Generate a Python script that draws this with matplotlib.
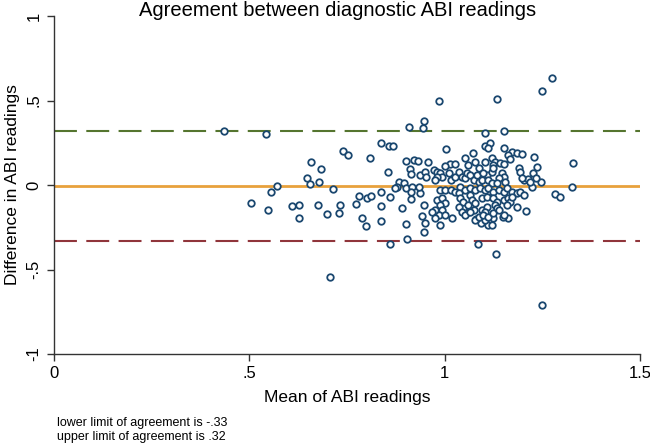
import matplotlib
matplotlib.use("Agg")
import matplotlib.pyplot as plt

# Mean of ABI readings (x) and difference in ABI readings (y)
mean_abi = [
0.985,0.948,0.944,0.908,0.434,0.543,0.837,0.857,0.867,1.004,0.740,0.752,0.809,0.658,0.901,0.921,0.932,0.958,0.684,0.856,
0.911,0.914,0.648,0.678,0.656,0.714,0.571,0.555,0.503,0.547,0.608,0.628,0.628,0.677,0.699,0.730,0.731,0.774,0.781,0.802,
0.811,0.836,0.788,0.798,0.838,0.836,0.861,0.890,0.901,0.904,0.860,0.707,0.913,0.938,0.947,0.942,0.949,0.947,0.987,1.133,
1.250,1.275,1.104,1.153,1.329,1.325,1.282,1.295,1.104,1.115,1.112,1.151,1.072,1.053,1.172,1.184,1.197,1.161,1.168,1.229,
1.237,1.227,1.247,1.191,1.193,1.204,1.214,1.223,1.085,1.131,1.207,1.185,1.163,1.149,1.125,1.110,1.094,1.080,1.019,1.059,
1.074,1.250,1.013,1.027,1.061,1.078,1.087,1.102,0.938,0.949,0.951,0.972,0.980,0.989,0.993,0.980,0.976,1.010,1.015,1.027,
1.036,1.044,1.053,1.057,1.066,1.074,1.082,1.087,1.099,1.108,0.883,0.895,0.878,0.934,0.874,0.900,0.917,0.913,0.989,1.002,
1.015,1.027,1.040,1.053,1.066,1.078,1.091,1.104,0.980,0.993,1.002,0.989,0.976,0.993,0.985,1.002,1.036,1.040,1.048,1.036,
1.044,1.053,1.066,1.070,1.078,1.061,1.066,1.078,1.087,1.095,1.104,1.108,0.968,0.976,1.002,1.121,1.129,1.125,1.142,1.151,
1.121,1.125,1.099,1.146,1.151,1.138,1.155,1.235,1.197,1.095,1.112,1.121,1.133,1.112,1.125,1.138,1.151,1.159,1.172,1.184,
1.193,1.202,1.095,1.108,1.125,1.133,1.151,1.163,1.168,1.159,1.129,1.133,1.172,1.104,1.099,1.112,1.125,1.138,1.151,1.121,
1.219,
]
diff_abi = [
0.499,0.379,0.337,0.343,0.320,0.300,0.250,0.231,0.231,0.213,0.203,0.176,0.160,0.138,0.144,0.150,0.142,0.138,0.095,0.079,
0.093,0.063,0.040,0.018,0.004,-0.024,-0.004,-0.043,-0.105,-0.148,-0.124,-0.118,-0.195,-0.120,-0.170,-0.167,-0.120,-0.111,-0.065,-0.079,
-0.065,-0.041,-0.193,-0.243,-0.215,-0.124,-0.073,-0.134,-0.233,-0.318,-0.347,-0.543,-0.085,-0.046,-0.118,-0.183,-0.227,-0.276,-0.237,0.507,
0.554,0.635,0.306,0.321,0.132,-0.014,-0.053,-0.073,0.231,0.250,0.217,0.217,0.188,0.158,0.197,0.188,0.183,0.178,0.152,0.164,
0.108,0.069,0.020,0.102,0.079,0.030,0.034,-0.010,-0.351,-0.410,-0.154,-0.128,-0.193,-0.188,-0.193,-0.237,-0.227,-0.201,-0.197,-0.158,
-0.148,-0.710,0.124,0.122,0.118,0.138,0.099,0.138,0.059,0.079,0.049,0.089,0.079,0.069,0.049,0.046,0.030,0.069,0.030,0.049,
0.079,0.049,0.040,0.069,0.059,0.030,0.059,0.020,0.040,0.059,0.020,0.010,-0.010,-0.010,-0.020,-0.020,-0.010,-0.040,-0.030,-0.030,
-0.030,-0.040,-0.010,-0.030,-0.020,-0.030,-0.020,-0.030,-0.089,-0.079,-0.108,-0.118,-0.148,-0.148,-0.178,-0.178,-0.049,-0.079,-0.099,-0.128,
-0.158,-0.178,-0.059,-0.089,-0.108,-0.118,-0.158,-0.207,-0.188,-0.148,-0.207,-0.128,-0.158,-0.197,0.112,0.158,0.138,0.118,0.128,0.124,
0.079,0.099,0.069,0.073,0.049,0.040,0.020,0.040,0.040,0.030,0.030,0.010,0.010,-0.020,-0.040,-0.030,-0.040,-0.020,-0.040,-0.049,
-0.040,-0.059,-0.079,-0.069,-0.079,-0.099,-0.089,-0.079,-0.099,-0.118,-0.118,-0.138,-0.069,-0.158,-0.178,-0.188,-0.167,-0.148,-0.178,-0.237,
0.020,
]

mean_diff = -0.005
lower_loa = -0.33
upper_loa = 0.32

title = "Agreement between diagnostic ABI readings"
xlabel = "Mean of ABI readings"
ylabel = "Difference in ABI readings"
xticks = [0, 0.5, 1, 1.5]
xticklabels = ["0", ".5", "1", "1.5"]
yticks = [-1, -0.5, 0, 0.5, 1]
yticklabels = ["-1", "-.5", "0", ".5", "1"]
note_lines = ["lower limit of agreement is -.33", "upper limit of agreement is .32"]

plt.rcParams['font.family'] = ['Liberation Sans', 'DejaVu Sans']

fig = plt.figure(figsize=(6.5, 4.45), dpi=100)
ax = fig.add_axes([54/650, 1-354/445, (640-54)/650, (354-16)/445])

navy = "#1a476f"
ax.axhline(upper_loa, color="#55752f", lw=1.5, linestyle=(0, (11, 4.5)), zorder=1)
ax.axhline(lower_loa, color="#90353b", lw=1.5, linestyle=(0, (11, 4.5)), zorder=1)
ax.axhline(mean_diff, color="#e8a13c", lw=2.0, zorder=1)
ax.scatter(mean_abi, diff_abi, s=22, facecolors="white", edgecolors=navy, linewidths=1.3, zorder=3)

ax.set_xlim(0, 1.5)
ax.set_ylim(-1, 1)
ax.set_xticks(xticks)
ax.set_xticklabels(xticklabels, fontsize=12)
ax.set_yticks(yticks)
ax.set_yticklabels(yticklabels, fontsize=12, rotation=90, va="center")
for s in ["top", "right"]:
    ax.spines[s].set_visible(False)
for s in ["left", "bottom"]:
    ax.spines[s].set_color("#333333")
    ax.spines[s].set_linewidth(1.0)
ax.tick_params(direction="out", length=5, width=1, color="#333333", pad=4)
ax.set_xlabel(xlabel, fontsize=12.5, labelpad=6)
ax.set_ylabel(ylabel, fontsize=12.5, labelpad=5)
fig.text(338/650, 1 - 11/445, title, fontsize=14.5, ha="center", va="center")
fig.text(57/650, 1 - 423/445, note_lines[0], fontsize=9, ha="left", va="center")
fig.text(57/650, 1 - 437/445, note_lines[1], fontsize=9, ha="left", va="center")

fig.savefig("out.png", dpi=100)
